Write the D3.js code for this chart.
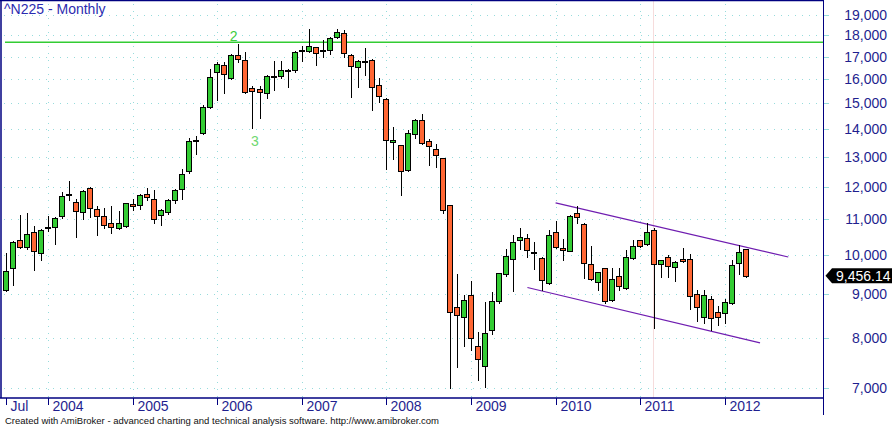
<!DOCTYPE html>
<html><head><meta charset="utf-8">
<script src="https://cdn.jsdelivr.net/npm/d3@7"></script>
<style>html,body{margin:0;padding:0;background:#fff;overflow:hidden}svg{display:block}</style>
</head><body>
<svg id="chart" width="892" height="427"></svg>
<script>
// ---------- DATA ----------
const title = "^N225 - Monthly";
const footerText = "Created with AmiBroker - advanced charting and technical analysis software. http://www.amibroker.com";
const months = [
"2003-07","2003-08","2003-09","2003-10","2003-11","2003-12",
"2004-01","2004-02","2004-03","2004-04","2004-05","2004-06","2004-07","2004-08","2004-09","2004-10","2004-11","2004-12",
"2005-01","2005-02","2005-03","2005-04","2005-05","2005-06","2005-07","2005-08","2005-09","2005-10","2005-11","2005-12",
"2006-01","2006-02","2006-03","2006-04","2006-05","2006-06","2006-07","2006-08","2006-09","2006-10","2006-11","2006-12",
"2007-01","2007-02","2007-03","2007-04","2007-05","2007-06","2007-07","2007-08","2007-09","2007-10","2007-11","2007-12",
"2008-01","2008-02","2008-03","2008-04","2008-05","2008-06","2008-07","2008-08","2008-09","2008-10","2008-11","2008-12",
"2009-01","2009-02","2009-03","2009-04","2009-05","2009-06","2009-07","2009-08","2009-09","2009-10","2009-11","2009-12",
"2010-01","2010-02","2010-03","2010-04","2010-05","2010-06","2010-07","2010-08","2010-09","2010-10","2010-11","2010-12",
"2011-01","2011-02","2011-03","2011-04","2011-05","2011-06","2011-07","2011-08","2011-09","2011-10","2011-11","2011-12",
"2012-01","2012-02","2012-03","2012-04"];
const open = [
9100,9640,10390,10220,10620,10060,
10740,10770,11100,11740,11530,11200,11950,11300,11080,10880,10740,10810,
11450,11420,11760,11600,11120,11200,11580,11930,12500,13550,13860,14860,
16330,16620,16050,17060,16840,15620,15590,15420,16100,16140,16390,16390,
17260,17270,17430,17270,17290,17910,18110,17080,16540,16790,16850,15760,
15190,13520,13410,12540,13820,14350,13550,13260,12940,11420,8690,8470,
8970,7830,7430,8180,8830,9510,9880,10390,10470,10080,9910,9260,
10620,10190,10110,11190,10860,9750,9290,9650,8860,9440,9160,9920,
10390,10290,10690,9750,9950,9690,9880,9900,9000,8470,8880,8590,
8560,8780,9780,10150];
const high = [
10040,10370,11120,11180,10810,10700,
11100,11060,11830,12190,11600,11900,11990,11400,11340,11400,11250,11500,
11600,11780,11950,11900,11290,11600,11930,12580,13680,13740,14920,16440,
16770,16740,17100,17563,17230,15730,15720,16190,16820,16820,16440,17240,
17470,18300,17450,17770,17900,18297,18270,17130,16840,17400,16880,16060,
15200,14090,13420,13970,14400,14580,13620,13450,12960,11430,9490,8980,
9310,8130,8820,9050,9530,10160,10530,10740,10580,10360,9950,10690,
10960,10430,11120,11408,10880,10230,9550,9660,9660,9660,10130,10400,
10410,10891,10750,9870,9990,9830,10180,10020,9090,9100,8960,8710,
8880,9860,10255,10160];
const low = [
9070,9220,10180,10150,9600,9860,
10660,10300,11030,11580,10500,11000,11050,10550,10750,10590,10710,10760,
11260,11300,11580,10890,10820,11150,11500,11610,12450,13100,13800,14800,
15120,15440,16000,16770,15400,14045,14437,15200,15540,16040,15660,16300,
16790,17230,16600,16960,17120,17880,17000,15262,15660,16190,14720,15040,
12590,12930,11740,12500,13680,13450,12700,12660,11190,6995,7400,7830,
7740,7150,7021,8090,8800,9450,9070,10160,9940,9620,9100,9250,
10180,9860,10100,10900,9400,9350,9100,8800,8830,9100,9130,9900,
10210,10270,8227,9410,9410,9330,9800,8640,8380,8340,8170,8290,
8340,8770,9490,9420];
const close = [
9563,10343,10219,10560,10100,10677,
10783,11041,11715,11761,11236,11858,11326,11082,10824,10771,10899,11489,
11388,11740,11668,11009,11277,11584,11900,12414,13574,13607,14872,16111,
16650,16205,17060,16906,15467,15505,15457,16141,16128,16420,16340,17226,
17300,17500,17160,17300,17876,18138,17170,16569,16786,16738,15681,15308,
13592,13603,12526,13850,14339,13481,13377,13073,11260,8577,8512,8860,
7994,7568,8110,8828,9523,9958,10357,10492,10133,10035,9346,10546,
10198,10126,11090,11057,9769,9383,9537,8824,9369,9202,9937,10229,
10238,10624,9755,9850,9694,9816,9833,8955,8700,8988,8435,8455,
8803,9723,10084,9456.14];
const yTickValues = [7000,8000,9000,10000,11000,12000,13000,14000,15000,16000,17000,18000,19000];
const xTickMonths = ["2003-07","2004-01","2005-01","2006-01","2007-01","2008-01","2009-01","2010-01","2011-01","2012-01"];
const xTickLabels = ["Jul","2004","2005","2006","2007","2008","2009","2010","2011","2012"];
const resistanceLevel = 17660;
const upperChannelMonths = ["2010-01","2012-10"];
const upperChannelValues = [11490, 9940];
const lowerChannelMonths = ["2009-09","2012-06"];
const lowerChannelValues = [9160, 7900];
const waveLabels = ["2","3"];
const waveMonths = ["2006-04","2006-06"];
const waveValues = [17660, 14045];
const selectedMonth = "2011-03";
const lastValue = 9456.14;

// ---------- LAYOUT ----------
const W = 892, H = 427;
const plotL = 1, plotR = 823, plotT = 0, plotB = 398;
const FONT = "'Liberation Sans', Arial, Helvetica, sans-serif";
const axisColor = "#000080";
const textColor = "#1f1f8f";
const gridColor = "#97dcdc";
const upColor = "#33cc33", downColor = "#ff6633";

const mIndex = m => { const [yy, mm] = m.split("-").map(Number); return (yy - 2003) * 12 + (mm - 7); };

const x = d3.scaleLinear().domain([0, 105]).range([5.7, 745.95]);
const y = d3.scaleLog().domain([7000, 19000]).range([388, 15]);

const svg = d3.select("#chart");
svg.append("rect").attr("width", W).attr("height", H).attr("fill", "#fff");

svg.append("clipPath").attr("id", "clip").append("rect")
  .attr("x", plotL).attr("y", plotT).attr("width", plotR - plotL).attr("height", plotB - plotT);

// grid
const grid = svg.append("g").attr("shape-rendering", "crispEdges");
yTickValues.forEach(v => {
  const yy = Math.round(y(v)) + 0.5;
  grid.append("line").attr("x1", plotL + 3).attr("x2", plotR).attr("y1", yy).attr("y2", yy)
    .attr("stroke", gridColor).attr("stroke-dasharray", "1,6");
  grid.append("line").attr("x1", plotR).attr("x2", plotR + 6).attr("y1", yy).attr("y2", yy)
    .attr("stroke", gridColor);
});
xTickMonths.slice(1).forEach(m => {
  const xx = Math.round(x(mIndex(m))) + 0.5;
  grid.append("line").attr("x1", xx).attr("x2", xx).attr("y1", 4).attr("y2", plotB)
    .attr("stroke", gridColor).attr("stroke-dasharray", "1,6");
});

// selected bar cursor
{
  const xx = Math.round(x(mIndex(selectedMonth))) - 0.5;
  svg.append("line").attr("x1", xx).attr("x2", xx).attr("y1", 1).attr("y2", plotB)
    .attr("stroke", "#f6dcdc").attr("stroke-width", 1);
}

const plot = svg.append("g").attr("clip-path", "url(#clip)");

// resistance line
{
  const yy = y(resistanceLevel);
  plot.append("line").attr("x1", x(0) - 0.7).attr("x2", plotR).attr("y1", yy).attr("y2", yy)
    .attr("stroke", "#33cc33").attr("stroke-width", 1.4);
}

// channel lines
[[upperChannelMonths, upperChannelValues], [lowerChannelMonths, lowerChannelValues]].forEach(([ms, vs]) => {
  plot.append("line")
    .attr("x1", x(mIndex(ms[0]))).attr("y1", y(vs[0]))
    .attr("x2", x(mIndex(ms[1]))).attr("y2", y(vs[1]))
    .attr("stroke", "#6f1db0").attr("stroke-width", 1.2);
});

// candles
const candles = plot.append("g");
months.forEach((m, i) => {
  const cx = Math.round(x(i));
  const o = open[i], h = high[i], l = low[i], c = close[i];
  candles.append("line").attr("x1", cx + 0.5).attr("x2", cx + 0.5)
    .attr("y1", Math.round(y(h))).attr("y2", Math.round(y(l)) + 1)
    .attr("stroke", "#000").attr("stroke-width", 1).attr("shape-rendering", "crispEdges");
  const top = Math.round(y(Math.max(o, c))) + 0.5;
  const bot = Math.round(y(Math.min(o, c))) + 0.5;
  candles.append("rect").attr("x", cx - 2.5).attr("y", top)
    .attr("width", 5).attr("height", Math.max(1, bot - top))
    .attr("fill", c >= o ? upColor : downColor)
    .attr("stroke", "#000").attr("stroke-width", 1).attr("shape-rendering", "crispEdges");
});

// wave labels
const waveColors = ["#3ccc3c", "#6fd86f"];
const waveDx = [-4.6, 2.5];
const waveDy = [-1.3, 17.7];
waveLabels.forEach((t, k) => {
  svg.append("text").attr("x", x(mIndex(waveMonths[k])) + waveDx[k]).attr("y", y(waveValues[k]) + waveDy[k])
    .attr("text-anchor", "middle").attr("font-family", FONT).attr("font-size", 14)
    .attr("fill", waveColors[k]).text(t);
});

// frame
const frame = svg.append("g").attr("stroke", axisColor).attr("fill", "none");
frame.append("line").attr("x1", 0).attr("x2", plotR).attr("y1", 0.5).attr("y2", 0.5).attr("stroke-width", 1.5);
frame.append("line").attr("x1", 1).attr("x2", 1).attr("y1", 0).attr("y2", plotB).attr("stroke-width", 1.5);
frame.append("line").attr("x1", 0).attr("x2", plotR).attr("y1", plotB).attr("y2", plotB).attr("stroke-width", 1.5);
frame.append("line").attr("x1", plotR + 0.5).attr("x2", plotR + 0.5).attr("y1", 0).attr("y2", 415).attr("stroke-width", 1);

// x ticks + labels
xTickMonths.forEach((m, k) => {
  const xx = Math.round(x(mIndex(m))) + 0.5;
  svg.append("line").attr("x1", xx).attr("x2", xx).attr("y1", plotB).attr("y2", 405)
    .attr("stroke", axisColor).attr("stroke-width", 1);
  svg.append("text").attr("x", xx + 4).attr("y", 411)
    .attr("font-family", FONT).attr("font-size", 14).attr("fill", textColor).text(xTickLabels[k]);
});

// y labels
yTickValues.forEach(v => {
  svg.append("text").attr("x", 887).attr("y", Math.round(y(v)) + 5)
    .attr("text-anchor", "end").attr("font-family", FONT).attr("font-size", 14)
    .attr("fill", textColor).text(d3.format(",")(v));
});

// last value marker
{
  const yy = y(lastValue);
  const pts = [[825.5, yy], [832, yy - 7.5], [892, yy - 7.5], [892, yy + 7.5], [832, yy + 7.5]];
  svg.append("polygon").attr("points", pts.map(p => p.join(",")).join(" ")).attr("fill", "#000");
  svg.append("text").attr("x", 836).attr("y", yy + 5).attr("font-family", FONT).attr("font-size", 14)
    .attr("fill", "#fff").text(d3.format(",.2f")(lastValue));
}

// title
svg.append("text").attr("x", 4).attr("y", 14).attr("font-family", FONT).attr("font-size", 14)
  .attr("fill", "#2b2bb0").text(title);

// footer
svg.append("text").attr("x", 5).attr("y", 424).attr("font-family", FONT).attr("font-size", 9.5)
  .attr("fill", "#111").text(footerText);
</script>
</body></html>
